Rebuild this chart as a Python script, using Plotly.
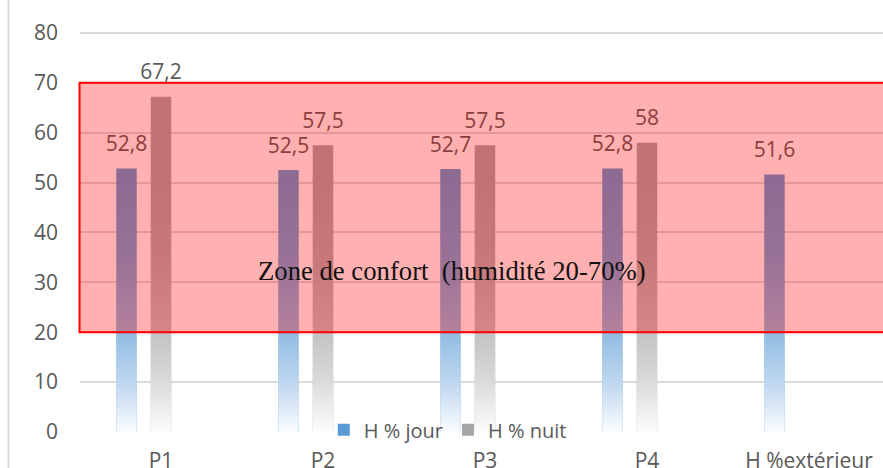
import plotly.graph_objects as go

# Relative humidity per measuring point (%), day and night
categories = ["P1", "P2", "P3", "P4", "H %extérieur"]
h_jour = [52.8, 52.5, 52.7, 52.8, 51.6]
h_nuit = [67.2, 57.5, 57.5, 58.0, None]
y_ticks = [0, 10, 20, 30, 40, 50, 60, 70, 80]

# Comfort zone bounds (%)
zone_low, zone_high = 20, 70
zone_label = "Zone de confort\u00a0 (humidité 20-70%)"

# Bar geometry in category units
BAR_W = 0.1265
SHIFT = {"jour": -0.213, "nuit": 0.0}
COL = {"jour": "#5B9BD5", "nuit": "#A5A5A5"}
NAME = {"jour": "H % jour", "nuit": "H % nuit"}

FONT = "Open Sans"
GREY_TXT = "#595959"


def fmt(v):
    return f"{v:g}".replace(".", ",")


fig = go.Figure()

series = {"jour": h_jour, "nuit": h_nuit}

for key, vals in series.items():
    idx = [i for i, v in enumerate(vals) if v is not None]
    xs = [i + SHIFT[key] for i in idx]
    ys = [vals[i] for i in idx]
    fig.add_trace(go.Bar(
        x=xs, y=ys, width=BAR_W, name=NAME[key],
        marker=dict(color=COL[key], line=dict(width=0)),
        hoverinfo="skip",
    ))

# White fade towards the base of every bar
for key, vals in series.items():
    px, py = [], []
    for i, v in enumerate(vals):
        if v is None:
            continue
        xc = i + SHIFT[key]
        x0, x1 = xc - BAR_W / 2, xc + BAR_W / 2
        px += [x0, x1, x1, x0, x0, None]
        py += [0, 0, v, v, 0, None]
    fig.add_trace(go.Scatter(
        x=px, y=py, mode="none", fill="toself", showlegend=False,
        hoverinfo="skip",
        fillgradient=dict(
            type="vertical", start=0, stop=52,
            colorscale=[
                [0.0, "rgba(255,255,255,0.97)"],
                [0.1, "rgba(255,255,255,0.78)"],
                [0.19, "rgba(255,255,255,0.6)"],
                [0.38, "rgba(255,255,255,0.33)"],
                [0.67, "rgba(255,255,255,0.1)"],
                [1.0, "rgba(255,255,255,0)"],
            ],
        ),
    ))

# Value labels above the bars
for key, vals in series.items():
    idx = [i for i, v in enumerate(vals) if v is not None]
    fig.add_trace(go.Scatter(
        x=[i + SHIFT[key] for i in idx],
        y=[vals[i] for i in idx],
        text=[fmt(vals[i]) for i in idx],
        mode="markers+text", textposition="top center",
        marker=dict(size=18, color="rgba(0,0,0,0)", line=dict(width=0)),
        textfont=dict(family=FONT, size=21, color=GREY_TXT),
        showlegend=False, hoverinfo="skip", cliponaxis=False,
    ))

# Comfort zone
fig.add_shape(
    type="rect", xref="paper", yref="y",
    x0=-0.0006, x1=1.05, y0=zone_low, y1=zone_high,
    fillcolor="rgba(255,0,0,0.31)", line=dict(color="#FF0000", width=2),
    layer="above",
)
fig.add_annotation(
    x=1.796, y=32.3, xref="x", yref="y", text=zone_label, showarrow=False,
    font=dict(family="Liberation Serif", size=26.7, color="#111111"),
    xanchor="center", yanchor="middle",
)

# Chart-area border on the left
fig.add_shape(
    type="line", xref="paper", yref="paper",
    x0=-0.089, x1=-0.089, y0=-0.2, y1=1.2,
    line=dict(color="#D9D9D9", width=2),
)

fig.update_layout(
    width=883, height=468,
    margin=dict(l=80, r=0, t=3, b=36, autoexpand=False),
    paper_bgcolor="white", plot_bgcolor="white",
    barmode="overlay",
    font=dict(family=FONT, size=20, color=GREY_TXT),
    showlegend=True,
    legend=dict(
        orientation="h", x=0.458, xanchor="center", y=0.005, yanchor="middle",
        bgcolor="rgba(0,0,0,0)", font=dict(family=FONT, size=20, color=GREY_TXT),
        itemwidth=30,
    ),
    xaxis=dict(
        range=[-0.5, 4.457], tickvals=list(range(len(categories))),
        ticktext=categories, showgrid=False, zeroline=False, showline=False,
        ticks="", ticklabelstandoff=14, automargin=False,
        tickfont=dict(family=FONT, size=21, color=GREY_TXT),
    ),
    yaxis=dict(
        range=[0, 86], tickvals=y_ticks, showgrid=True, gridcolor="#D9D9D9",
        gridwidth=2, zeroline=False, showline=False, ticks="",
        ticklabelstandoff=21, automargin=False,
        tickfont=dict(family=FONT, size=21, color=GREY_TXT),
    ),
)

fig.write_html("out.html")
